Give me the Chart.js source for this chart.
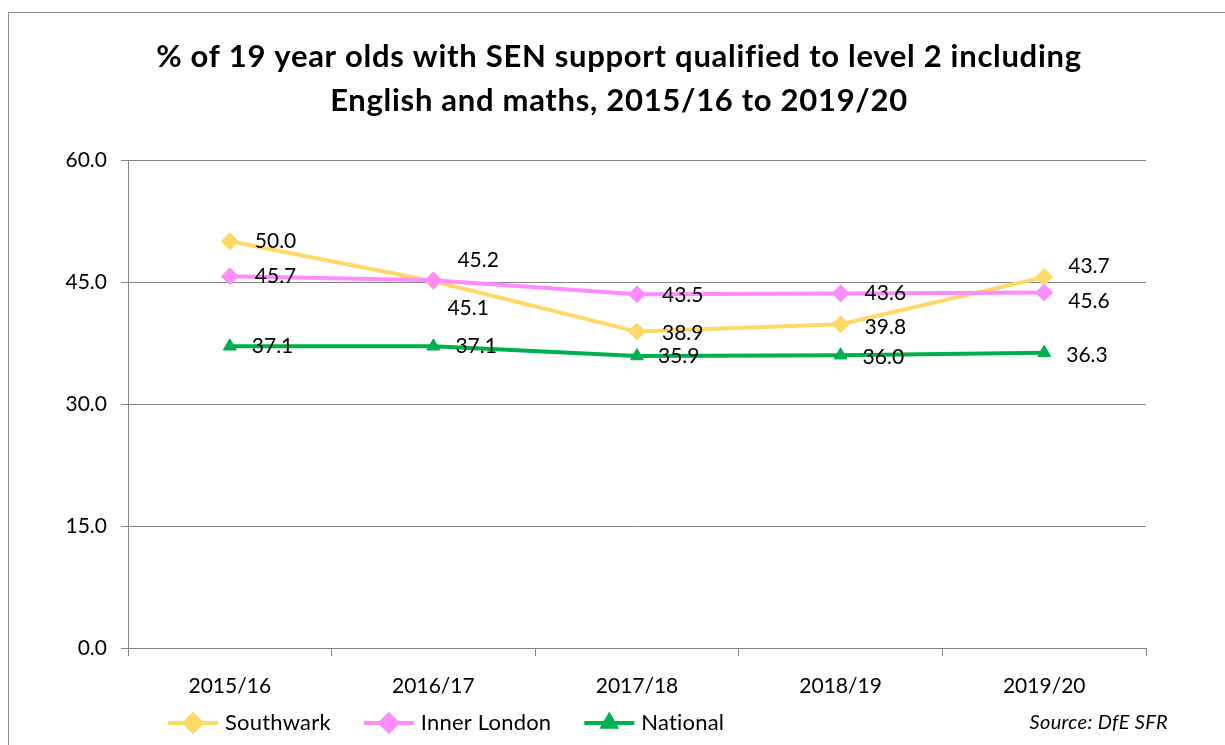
<!DOCTYPE html>
<html><head><meta charset="utf-8">
<script src="https://cdn.jsdelivr.net/npm/chart.js@4/dist/chart.umd.min.js"></script>
<style>
html,body{margin:0;padding:0;background:#fff;overflow:hidden;}
#wrap{position:relative;width:1225px;height:745px;overflow:hidden;}
#frame{position:absolute;left:8px;top:12px;width:1400px;height:900px;border:1px solid #8c8c8c;box-sizing:border-box;}
#c{position:absolute;left:0;top:0;}
</style></head><body>
<div id="wrap"><div id="frame"></div><canvas id="c" width="1225" height="745"></canvas></div>
<script>
const categories = ["2015/16", "2016/17", "2017/18", "2018/19", "2019/20"];
const southwark = [50.0, 45.1, 38.9, 39.8, 45.6];
const innerLondon = [45.7, 45.2, 43.5, 43.6, 43.7];
const national = [37.1, 37.1, 35.9, 36.0, 36.3];
const southwarkLabels = ["50.0", "45.1", "38.9", "39.8", "43.7"];
const innerLondonLabels = ["45.7", "45.2", "43.5", "43.6", "45.6"];
const nationalLabels = ["37.1", "37.1", "35.9", "36.0", "36.3"];
const yTicks = [0, 15, 30, 45, 60];
const titleLines = ["% of 19 year olds with SEN support qualified to level 2 including", "English and maths, 2015/16 to 2019/20"];
const sourceText = "Source: DfE SFR";

const FONT = "Lato, 'Noto Sans', sans-serif";
const GRID = '#868686';

// label offsets (style only)
const labelOffsets = [
  [[25,0],[14,27],[25,2],[24,3],[24,-11]],
  [[25,0],[24,-20],[25,1],[24,0],[24,9]],
  [[22,0],[22,0],[21,0],[22,2],[22,2]]
];
const labelSets = [southwarkLabels, innerLondonLabels, nationalLabels];

const overlay = {
  id: 'overlay',
  afterDatasetsDraw(chart) {
    const ctx = chart.ctx;
    ctx.save();
    ctx.fillStyle = '#000';
    ctx.font = "21px " + FONT;
    ctx.textAlign = 'left';
    ctx.textBaseline = 'middle';
    chart.data.datasets.forEach((ds, di) => {
      const meta = chart.getDatasetMeta(di);
      meta.data.forEach((pt, i) => {
        const off = labelOffsets[di][i];
        ctx.fillText(labelSets[di][i], pt.x + off[0], pt.y + off[1]);
      });
    });
    ctx.restore();
  },
  afterDraw(chart) {
    const ctx = chart.ctx;
    ctx.save();
    // title
    ctx.fillStyle = '#000';
    ctx.font = "bold 31px " + FONT;
    ctx.letterSpacing = '0.7px';
    ctx.textAlign = 'center';
    ctx.textBaseline = 'middle';
    titleLines.forEach((t, i) => ctx.fillText(t, 619, 57 + i * 44));
    // legend
    let x = 168;
    const y = 723;
    ctx.font = "22px " + FONT;
    ctx.letterSpacing = '0.2px';
    ctx.textAlign = 'left';
    chart.data.datasets.forEach((ds) => {
      ctx.strokeStyle = ds.borderColor;
      ctx.lineWidth = 4;
      ctx.beginPath();
      ctx.moveTo(x, y);
      ctx.lineTo(x + 50, y);
      ctx.stroke();
      Chart.helpers.drawPoint(ctx, {
        pointStyle: ds.pointStyle,
        radius: ds.pointRadius,
        rotation: 0,
        borderWidth: 1
      }, x + 25, y);
      ctx.fillStyle = ds.borderColor;
      ctx.fill();
      ctx.fillStyle = '#000';
      ctx.fillText(ds.label, x + 57, y);
      x += 57 + ctx.measureText(ds.label).width + 33;
    });
    // source
    ctx.font = "italic 20px " + FONT;
    ctx.letterSpacing = '0.3px';
    ctx.textAlign = 'right';
    ctx.fillText(sourceText, 1168, y);
    ctx.restore();
  }
};

function series(label, data, color, style, radius, order) {
  return {
    label, data,
    borderColor: color, backgroundColor: color,
    pointBackgroundColor: color, pointBorderColor: color,
    borderWidth: 4, pointStyle: style, pointRadius: radius,
    pointHoverRadius: radius, pointBorderWidth: 1,
    tension: 0, fill: false, order
  };
}

new Chart(document.getElementById('c'), {
  type: 'line',
  data: {
    labels: categories,
    datasets: [
      series('Southwark', southwark, '#FFD966', 'rectRot', 8.5, 3),
      series('Inner London', innerLondon, '#FF8CFF', 'rectRot', 8.5, 2),
      series('National', national, '#00B050', 'triangle', 7.5, 1)
    ]
  },
  options: {
    responsive: false,
    animation: false,
    events: [],
    layout: { padding: { left: 0, right: 79, top: 160, bottom: 42 } },
    plugins: { legend: { display: false }, title: { display: false }, tooltip: { enabled: false } },
    scales: {
      x: {
        type: 'category',
        offset: true,
        grid: { display: true, drawOnChartArea: false, drawTicks: true, tickLength: 8, color: GRID, offset: true },
        border: { display: true, color: GRID, width: 1 },
        ticks: { color: '#000', font: { family: FONT, size: 21 }, padding: 18, maxRotation: 0 },
        afterFit: s => { s.height = 55; }
      },
      y: {
        min: 0, max: 60,
        afterBuildTicks: s => { s.ticks = yTicks.map(v => ({ value: v })); },
        ticks: { color: '#000', font: { family: FONT, size: 21 }, padding: 14, callback: v => Number(v).toFixed(1) },
        grid: { color: GRID, tickLength: 7, lineWidth: 1 },
        border: { display: true, color: GRID, width: 1 },
        afterFit: s => { s.width = 128; }
      }
    }
  },
  plugins: [overlay]
});
</script>
</body></html>
